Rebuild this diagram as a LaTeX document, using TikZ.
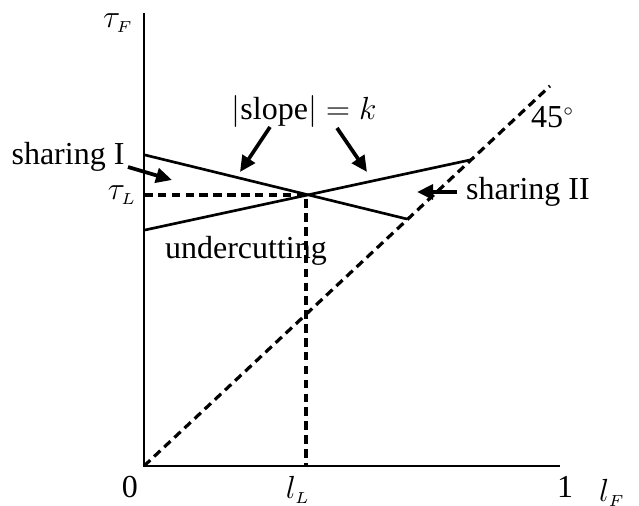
\documentclass[tikz,border=0pt]{standalone}
\usepackage{fontspec}
\setmainfont{Liberation Serif}
\usetikzlibrary{arrows.meta}

\begin{document}
\begin{tikzpicture}[
        x=0.375pt, y=0.375pt,
        axis/.style={line width=1pt},
        curve/.style={line width=1pt},
        guide/.style={line width=1.2pt, dash pattern=on 3.2pt off 2pt},
        pointer/.style={-{Triangle[length=6pt, width=5.5pt]}, line width=1.4pt},
        lbl/.style={inner sep=0pt, font=\fontsize{12}{14}\selectfont}
      ]
        \useasboundingbox (-144,-40) rectangle (495,466);
        \coordinate (O) at (0,0);
        \coordinate (xend) at (416,0);
        \coordinate (ytop) at (0,453);
        \coordinate (cross) at (162,271);
        \coordinate (tauL) at (0,271);
        \coordinate (lL) at (162,0);
        \coordinate (a1) at (1,311);
        \coordinate (a2) at (263,247);
        \coordinate (b1) at (1,236);
        \coordinate (b2) at (326,306);
        \coordinate (diag) at (406,380);
        \draw[axis] (ytop) -- (O) -- (xend);
        \draw[guide] (O) -- (diag);
        \draw[guide] (tauL) -- (cross) -- (lL);
        \draw[curve] (a1) -- (a2);
        \draw[curve] (b1) -- (b2);
        \node[lbl] (tF) at (-26,443) {$\tau_{\scriptscriptstyle F}$};
        \node[lbl] (tL) at (-22,271) {$\tau_{\scriptscriptstyle L}$};
        \node[lbl] (shI) at (-76,309) {sharing I};
        \node[lbl] (slope) at (160,354) {$\left|\mbox{slope}\right| = k$};
        \node[lbl] (deg) at (409,349) {45$^{\scriptscriptstyle\circ}$};
        \node[lbl] (shII) at (384,274) {sharing II};
        \node[lbl] (under) at (102,215) {undercutting};
        \node[lbl] (zero) at (-14,-21) {0};
        \node[lbl] (lLlbl) at (154,-24) {$l_{\scriptscriptstyle L}$};
        \node[lbl] (one) at (421,-21) {1};
        \node[lbl] (lF) at (468,-27) {$l_{\scriptscriptstyle F}$};
        \coordinate (qI) at (-16,299);
        \coordinate (pI) at (28,286);
        \coordinate (qII) at (313,274);
        \coordinate (pII) at (273,274);
        \coordinate (r1) at (126,339);
        \coordinate (s1) at (96,294);
        \coordinate (r2) at (193,338);
        \coordinate (s2) at (223,294);
        \draw[pointer] (qI) -- (pI);
        \draw[pointer] (qII) -- (pII);
        \draw[pointer] (r1) -- (s1);
        \draw[pointer] (r2) -- (s2);
      \end{tikzpicture}
\end{document}
